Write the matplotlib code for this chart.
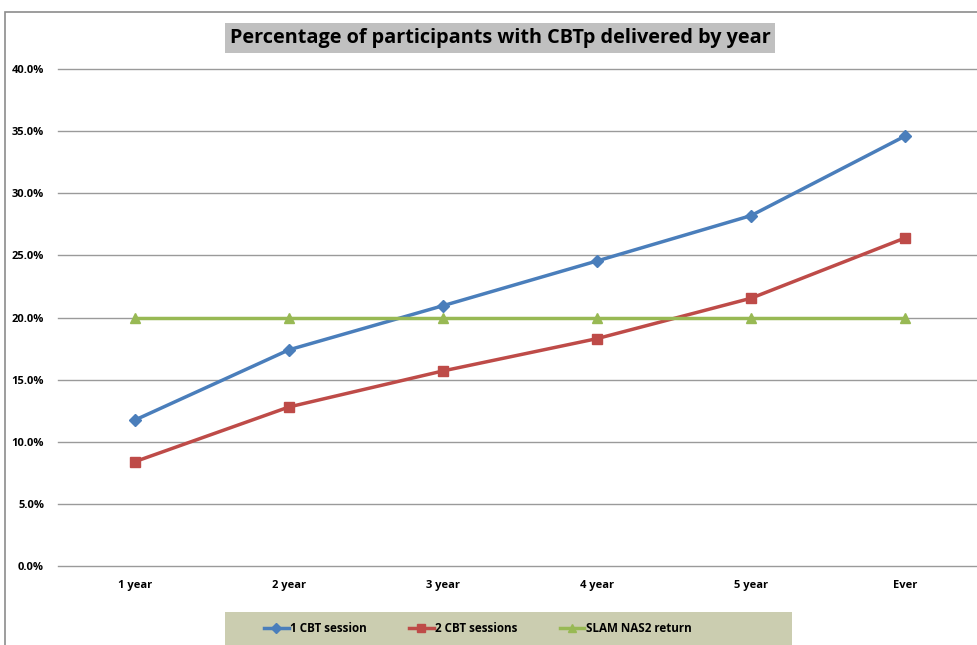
import matplotlib
matplotlib.use('Agg')
import matplotlib.pyplot as plt
from matplotlib.patches import Rectangle
from matplotlib.ticker import FuncFormatter

# Data
categories = ['1 year', '2 year', '3 year', '4 year', '5 year', 'Ever']
one_session = [11.75, 17.4, 20.95, 24.55, 28.2, 34.6]
two_sessions = [8.4, 12.8, 15.7, 18.3, 21.55, 26.4]
slam_return = [20.0, 20.0, 20.0, 20.0, 20.0, 20.0]

plt.rcParams['font.family'] = ['Open Sans', 'DejaVu Sans']

fig = plt.figure(figsize=(9.77, 6.45), dpi=100)

# Outer chart border
fig.patches.append(Rectangle((5 / 977, -0.1), 1.2, 1 - 12 / 645 + 0.1,
                             transform=fig.transFigure, fill=False,
                             edgecolor='#8c8c8c', linewidth=1.2))

ax = fig.add_axes([58 / 977, 1 - 566 / 645, 924 / 977, (566 - 69) / 645])

x = list(range(len(categories)))
ax.plot(x, one_session, color='#4a7ebb', linewidth=2.5, marker='D', markersize=6,
        label='1 CBT session')
ax.plot(x, two_sessions, color='#be4b48', linewidth=2.5, marker='s', markersize=7,
        label='2 CBT sessions')
ax.plot(x, slam_return, color='#98b954', linewidth=2.5, marker='^', markersize=7,
        label='SLAM NAS2 return')

ax.set_xlim(-0.5, 5.5)
ax.set_ylim(0, 40)
ax.set_yticks(range(0, 41, 5))
ax.yaxis.set_major_formatter(FuncFormatter(lambda v, p: '%.1f%%' % v))
ax.set_xticks(x)
ax.set_xticklabels(categories)
ax.tick_params(length=0, labelsize=8)
ax.tick_params(axis='y', pad=10)
ax.tick_params(axis='x', pad=10)
for lbl in ax.get_xticklabels() + ax.get_yticklabels():
    lbl.set_fontweight('bold')
ax.grid(axis='y', color='#9a9a9a', linewidth=1)
for gl in ax.get_ygridlines():
    gl.set_clip_on(False)
ax.set_axisbelow(True)
for s in ax.spines.values():
    s.set_visible(False)

# Title with grey box
fig.text(500 / 977, 1 - 38 / 645, 'Percentage of participants with CBTp delivered by year',
         ha='center', va='center', fontsize=14.3, fontweight='bold',
         bbox=dict(boxstyle='square,pad=0.25', facecolor='#c0c0c0', edgecolor='none'))

# Legend band
fig.patches.append(Rectangle((225 / 977, 0), (792 - 225) / 977, (645 - 612) / 645,
                             transform=fig.transFigure, facecolor='#cbcdb0',
                             edgecolor='none'))
leg = fig.legend(loc='center', bbox_to_anchor=(478 / 977, 1 - 629 / 645), ncol=3,
                 frameon=False, handlelength=2.1, handletextpad=0.15,
                 columnspacing=3.6, markerscale=0.85,
                 prop={'weight': 'bold', 'size': 8.4})

fig.savefig('out.png', dpi=100)
